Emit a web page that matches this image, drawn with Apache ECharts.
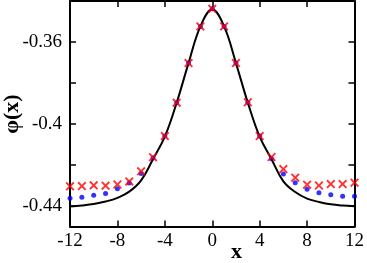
<!DOCTYPE html>
<html>
<head>
<meta charset="utf-8">
<script src="https://cdn.jsdelivr.net/npm/echarts@6/dist/echarts.min.js"></script>
<style>
html,body{margin:0;padding:0;background:#fff;}
#chart{width:367px;height:263px;}
</style>
</head>
<body>
<div id="chart"></div>
<script>
// x positions (lattice sites)
var xs = [-12,-11,-10,-9,-8,-7,-6,-5,-4,-3,-2,-1,0,1,2,3,4,5,6,7,8,9,10,11,12];
// black continuous curve
var curveVals = [-0.4402,-0.4397,-0.4390,-0.4378,-0.4360,-0.4330,-0.4275,-0.4172,-0.4062,-0.3896,-0.3703,-0.3524,-0.3442,
                 -0.3524,-0.3703,-0.3896,-0.4062,-0.4172,-0.4280,-0.4332,-0.4364,-0.4380,-0.4392,-0.4398,-0.4401];
// red crosses
var redVals = [-0.4304,-0.4303,-0.4299,-0.4301,-0.4295,-0.4280,-0.4231,-0.4162,-0.4059,-0.3896,-0.3703,-0.3524,-0.3438,
               -0.3524,-0.3703,-0.3894,-0.4059,-0.4161,-0.4220,-0.4262,-0.4296,-0.4300,-0.4293,-0.4293,-0.4286];
// blue dots
var blueVals = [-0.4362,-0.4357,-0.4347,-0.4339,-0.4316,-0.4288,-0.4242,-0.4166,-0.4059,-0.3896,-0.3703,-0.3524,-0.3438,
                -0.3524,-0.3703,-0.3894,-0.4059,-0.4169,-0.4244,-0.4286,-0.4318,-0.4335,-0.4345,-0.4352,-0.4353];
var yTicks = [-0.44,-0.42,-0.40,-0.38,-0.36];
var yLabels = [-0.44,-0.4,-0.36];
var xLabelText = 'x';
var yLabelText = 'φ(x)';

function pairs(a, b){ return a.map(function(v,i){ return [v, b[i]]; }); }

var font = 'Liberation Serif, Times New Roman, serif';
var chart = echarts.init(document.getElementById('chart'), null, {renderer:'canvas'});
var axisLineStyle = {color:'#000', width:2};
var tickStyle = {color:'#000', width:1.5};
var crossPath = 'path://M0,1.5L1.5,0L5,3.5L8.5,0L10,1.5L6.5,5L10,8.5L8.5,10L5,6.5L1.5,10L0,8.5L3.5,5Z';

chart.setOption({
  animation:false,
  backgroundColor:'#fff',
  grid:{left:70, right:9, top:1, bottom:36.5, containLabel:false},
  xAxis:[
    {type:'value', min:-12, max:12, interval:4, position:'bottom',
     axisLine:{show:true, onZero:false, lineStyle:axisLineStyle},
     axisTick:{show:true, inside:true, length:6, lineStyle:tickStyle},
     axisLabel:{show:true, color:'#000', fontSize:19, fontFamily:font, margin:5},
     splitLine:{show:false}},
    {type:'value', min:-12, max:12, interval:4, position:'top',
     axisLine:{show:true, onZero:false, lineStyle:axisLineStyle},
     axisTick:{show:true, inside:true, length:6, lineStyle:tickStyle},
     axisLabel:{show:false}, splitLine:{show:false}}
  ],
  yAxis:[
    {type:'value', min:-0.45, max:-0.34, position:'left',
     axisLine:{show:true, onZero:false, lineStyle:axisLineStyle},
     axisTick:{show:true, inside:true, length:6, lineStyle:tickStyle, customValues:yTicks},
     axisLabel:{show:true, color:'#000', fontSize:19, fontFamily:font, margin:8, customValues:yLabels},
     splitLine:{show:false}},
    {type:'value', min:-0.45, max:-0.34, position:'right',
     axisLine:{show:true, onZero:false, lineStyle:axisLineStyle},
     axisTick:{show:true, inside:true, length:6, lineStyle:tickStyle, customValues:yTicks},
     axisLabel:{show:false}, splitLine:{show:false}}
  ],
  graphic:[
    {type:'text', left:231, top:241, style:{text:xLabelText, font:'bold 22px ' + font, fill:'#000'}},
    {type:'text', x:1, y:114, rotation:Math.PI/2, style:{text:yLabelText, font:'bold 22px ' + font, fill:'#000', textAlign:'center', textVerticalAlign:'top'}}
  ],
  series:[
    {type:'line', name:'curve', data:pairs(xs, curveVals), smooth:0.4, showSymbol:false, symbol:'none',
     lineStyle:{color:'#000', width:2}, z:2},
    {type:'scatter', name:'blue', data:pairs(xs, blueVals), symbol:'circle', symbolSize:5,
     itemStyle:{color:'#0000ff'}, z:3},
    {type:'scatter', name:'red', data:pairs(xs, redVals), symbol:crossPath, symbolSize:9,
     itemStyle:{color:'#ff0000'}, z:4}
  ]
});
</script>
</body>
</html>
